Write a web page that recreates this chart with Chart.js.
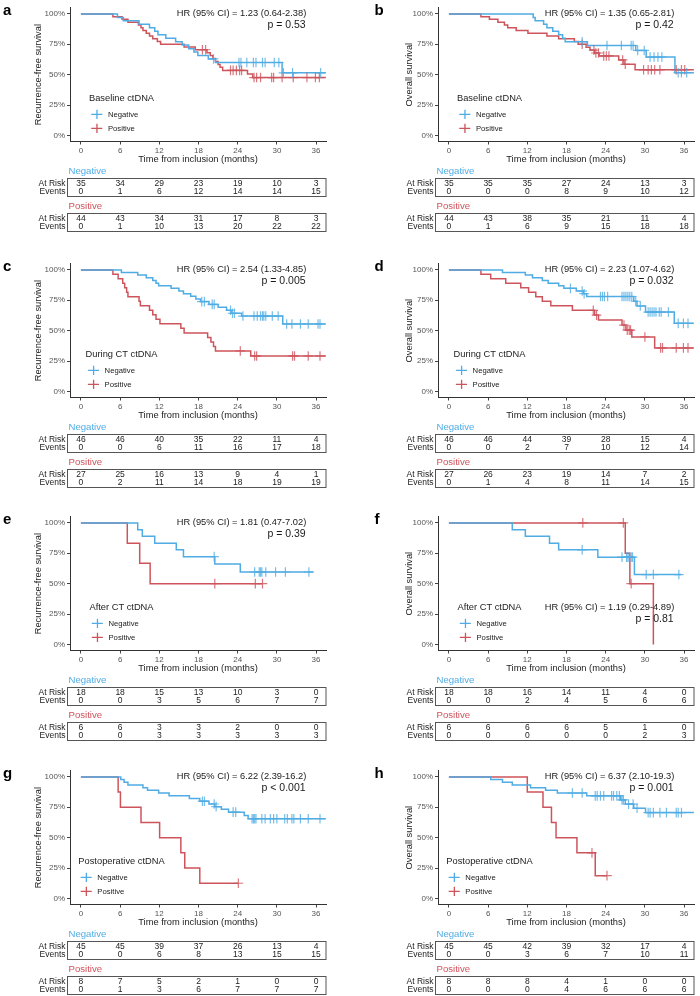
<!DOCTYPE html>
<html>
<head>
<meta charset="utf-8">
<script src="https://cdn.jsdelivr.net/npm/chart.js@4.4.1/dist/chart.umd.min.js"></script>
<style>
  body { margin: 0; background: #fff; }
  #fig { position: relative; width: 700px; height: 996px; overflow: hidden; }
  #fig canvas { position: absolute; }
</style>
</head>
<body>
<div id="fig"></div>
<script>
// ---- data ----
const panelIds = ['a', 'b', 'c', 'd', 'e', 'f', 'g', 'h'];
const cohortNames = ['Baseline ctDNA', 'Baseline ctDNA', 'During CT ctDNA', 'During CT ctDNA',
  'After CT ctDNA', 'After CT ctDNA', 'Postoperative ctDNA', 'Postoperative ctDNA'];
const yTitles = ['Recurrence-free survival', 'Overall survival', 'Recurrence-free survival', 'Overall survival',
  'Recurrence-free survival', 'Overall survival', 'Recurrence-free survival', 'Overall survival'];
const hrLabels = ['HR (95% CI) = 1.23 (0.64-2.38)', 'HR (95% CI) = 1.35 (0.65-2.81)',
  'HR (95% CI) = 2.54 (1.33-4.85)', 'HR (95% CI) = 2.23 (1.07-4.62)',
  'HR (95% CI) = 1.81 (0.47-7.02)', 'HR (95% CI) = 1.19 (0.29-4.89)',
  'HR (95% CI) = 6.22 (2.39-16.2)', 'HR (95% CI) = 6.37 (2.10-19.3)'];
const pLabels = ['p = 0.53', 'p = 0.42', 'p = 0.005', 'p = 0.032', 'p = 0.39', 'p = 0.81', 'p < 0.001', 'p = 0.001'];
const groupNames = ['Negative', 'Positive'];

const xTicks = [0, 6, 12, 18, 24, 30, 36];
const yTicks = [0, 25, 50, 75, 100];

// Kaplan-Meier steps: time (months) and survival (%) after each step
const negTimes = [
  [0, 5.6, 6.5, 8.9, 10.5, 11.3, 11.8, 13.0, 14.5, 15.5, 16.5, 17.3, 17.9, 19.5, 20.6, 30.8, 37.5],
  [0, 12.9, 13.2, 14.5, 15.0, 15.9, 16.8, 17.4, 17.8, 21.2, 28.6, 30.2, 34.6, 37.5],
  [0, 6.2, 8.7, 10.0, 11.0, 11.5, 11.9, 13.8, 15.0, 15.7, 16.8, 17.6, 18.3, 19.6, 21.0, 22.3, 23.0, 24.6, 30.9, 37.5],
  [0, 8.2, 11.7, 12.8, 14.3, 15.2, 16.8, 17.6, 19.5, 20.6, 21.1, 28.3, 28.8, 30.1, 34.5, 37.5],
  [0, 8.7, 9.4, 11.3, 14.6, 15.7, 20.5, 24.4, 35.6],
  [0, 9.7, 11.7, 15.4, 16.8, 22.8, 28.4, 35.6],
  [0, 6.1, 6.6, 7.2, 9.5, 10.2, 11.9, 13.5, 16.6, 18.2, 19.6, 20.5, 21.5, 22.6, 25.0, 25.6, 37.5],
  [0, 6.4, 8.2, 9.7, 12.5, 14.8, 16.6, 21.1, 26.3, 27.0, 28.3, 30.1, 37.5]
];
const negSurv = [
  [100, 97.1, 94.3, 91.4, 88.6, 85.7, 82.9, 80.0, 77.1, 74.3, 71.4, 68.6, 65.7, 62.9, 60.0, 51.5, 51.5],
  [100, 97.1, 94.3, 91.4, 88.6, 85.7, 82.9, 80.0, 77.1, 74.0, 69.9, 64.5, 51.6, 51.6],
  [100, 97.8, 95.7, 93.5, 91.3, 89.1, 87.0, 84.8, 82.6, 80.4, 78.3, 76.1, 73.9, 71.6, 69.2, 66.8, 64.3, 62.0, 55.5, 55.5],
  [100, 97.8, 95.7, 93.5, 91.3, 89.1, 87.0, 84.8, 82.6, 80.4, 78.1, 74.2, 70.3, 65.3, 56.0, 56.0],
  [100, 94.4, 88.9, 83.3, 77.8, 72.2, 66.2, 59.6, 59.6],
  [100, 94.4, 88.9, 83.3, 77.8, 71.8, 57.5, 57.5],
  [100, 97.8, 95.6, 93.3, 91.1, 88.9, 86.7, 84.4, 82.2, 80.0, 77.7, 75.5, 73.3, 71.0, 68.2, 65.6, 65.6],
  [100, 97.8, 95.6, 93.3, 91.1, 88.9, 86.7, 84.4, 81.0, 77.6, 74.2, 70.6, 70.6]
];
const negCensor = [
  [20.3, 24.2, 24.5, 25.4, 26.4, 26.8, 27.8, 28.2, 29.6, 30.3, 31.0, 32.4, 36.7],
  [20.4, 24.2, 26.4, 27.9, 28.2, 28.9, 29.9, 30.8, 31.4, 32.0, 32.6, 35.1, 35.6, 36.4],
  [18.5, 18.9, 20.1, 20.4, 22.9, 23.2, 23.5, 24.8, 26.5, 27.0, 27.5, 27.8, 28.0, 28.3, 29.3, 30.2, 31.5, 32.3, 33.6, 34.8, 36.3, 36.6],
  [18.6, 20.4, 20.7, 23.2, 23.5, 23.8, 24.3, 26.5, 26.8, 27.1, 27.4, 27.7, 28.0, 28.6, 29.3, 30.5, 30.8, 31.1, 31.4, 31.7, 32.2, 32.5, 33.6, 35.1, 35.9, 36.6],
  [20.4, 26.6, 27.3, 27.5, 27.7, 28.3, 29.8, 31.3, 34.9],
  [20.4, 26.5, 27.2, 27.4, 27.6, 27.9, 28.1, 30.2, 31.3, 35.2],
  [18.6, 18.9, 20.4, 20.7, 23.3, 23.7, 26.2, 26.4, 26.6, 26.8, 27.7, 28.2, 29.0, 29.5, 30.0, 31.2, 31.6, 32.3, 32.6, 33.6, 34.8, 36.6],
  [18.9, 20.4, 22.4, 22.7, 23.2, 23.7, 24.9, 25.2, 25.7, 26.1, 26.5, 26.7, 27.5, 28.2, 28.8, 30.5, 30.8, 31.3, 32.3, 33.3, 34.8, 35.1, 35.6]
];
const posTimes = [
  [0, 4.9, 6.3, 7.2, 8.8, 9.2, 9.5, 10.0, 10.5, 11.0, 11.7, 12.2, 15.8, 17.5, 19.3, 19.8, 20.2, 20.6, 21.0, 21.3, 21.7, 25.5, 26.3, 37.5],
  [0, 4.9, 6.2, 7.5, 8.5, 9.0, 10.3, 12.1, 15.0, 16.8, 19.2, 19.8, 21.0, 21.6, 22.3, 23.0, 26.0, 26.8, 28.5, 37.5],
  [0, 4.9, 5.7, 6.4, 6.7, 7.0, 7.2, 8.9, 9.1, 10.5, 11.0, 11.5, 12.1, 15.3, 15.8, 19.4, 19.9, 20.3, 20.6, 26.0, 37.5],
  [0, 4.9, 6.4, 8.7, 11.0, 12.2, 13.3, 14.3, 15.6, 18.9, 22.3, 22.9, 26.5, 27.1, 28.0, 31.5, 37.5],
  [0, 7.1, 9.0, 10.6, 27.8],
  [0, 27.0, 27.7, 31.3],
  [0, 5.7, 6.05, 9.2, 12.05, 15.3, 15.9, 18.2, 24.1],
  [0, 12.0, 14.4, 15.7, 16.4, 19.6, 22.4, 24.2]
];
const posSurv = [
  [100, 97.7, 95.5, 93.2, 90.9, 88.6, 86.4, 84.1, 81.8, 79.5, 77.3, 75.0, 72.7, 70.5, 68.1, 65.7, 63.3, 60.8, 58.4, 56.0, 53.5, 50.6, 47.6, 47.6],
  [100, 97.7, 95.5, 93.2, 90.9, 88.6, 86.4, 84.1, 81.8, 79.5, 77.3, 75.0, 72.6, 70.2, 67.8, 65.4, 62.1, 58.5, 54.0, 54.0],
  [100, 96.3, 92.6, 88.9, 85.2, 81.5, 77.8, 74.1, 70.4, 66.7, 63.0, 59.3, 55.6, 51.9, 48.1, 44.4, 40.7, 37.0, 33.3, 29.2, 29.2],
  [100, 96.3, 92.6, 88.9, 85.2, 81.5, 77.8, 74.1, 70.4, 66.7, 62.8, 58.8, 54.6, 50.4, 44.8, 35.8, 35.8],
  [100, 83.3, 66.7, 50.0, 50.0],
  [100, 75, 50, 0],
  [100, 87.5, 75, 62.5, 50, 37.5, 25, 12.5, 12.5],
  [100, 87.5, 75, 62.5, 50, 37.5, 18.75, 18.75]
];
const posCensor = [
  [18.6, 19.1, 22.9, 23.3, 23.8, 24.3, 24.6, 26.5, 26.9, 27.5, 29.2, 29.5, 30.8, 32.5, 34.6, 35.9, 36.5],
  [20.4, 22.2, 22.5, 22.9, 23.7, 24.1, 24.5, 26.6, 27.0, 29.8, 30.5, 31.0, 31.5, 32.3, 34.8, 35.6, 36.1],
  [24.4, 26.6, 26.9, 32.4, 32.7, 34.8, 36.6],
  [22.1, 22.6, 26.8, 27.3, 27.6, 27.8, 30.0, 32.4, 32.7, 34.8, 35.9, 36.6],
  [20.5, 26.7, 27.8],
  [20.5, 26.7, 27.9],
  [24.1],
  [21.9, 24.2]
];

// risk tables
const negAtRisk = [[35, 34, 29, 23, 19, 10, 3], [35, 35, 35, 27, 24, 13, 3], [46, 46, 40, 35, 22, 11, 4], [46, 46, 44, 39, 28, 15, 4],
  [18, 18, 15, 13, 10, 3, 0], [18, 18, 16, 14, 11, 4, 0], [45, 45, 39, 37, 26, 13, 4], [45, 45, 42, 39, 32, 17, 4]];
const negEvents = [[0, 1, 6, 12, 14, 14, 15], [0, 0, 0, 8, 9, 10, 12], [0, 0, 6, 11, 16, 17, 18], [0, 0, 2, 7, 10, 12, 14],
  [0, 0, 3, 5, 6, 7, 7], [0, 0, 2, 4, 5, 6, 6], [0, 0, 6, 8, 13, 15, 15], [0, 0, 3, 6, 7, 10, 11]];
const posAtRisk = [[44, 43, 34, 31, 17, 8, 3], [44, 43, 38, 35, 21, 11, 4], [27, 25, 16, 13, 9, 4, 1], [27, 26, 23, 19, 14, 7, 2],
  [6, 6, 3, 3, 2, 0, 0], [6, 6, 6, 6, 5, 1, 0], [8, 7, 5, 2, 1, 0, 0], [8, 8, 8, 4, 1, 0, 0]];
const posEvents = [[0, 1, 10, 13, 20, 22, 22], [0, 1, 6, 9, 15, 18, 18], [0, 2, 11, 14, 18, 19, 19], [0, 1, 4, 8, 11, 14, 15],
  [0, 0, 3, 3, 3, 3, 3], [0, 0, 0, 0, 0, 2, 3], [0, 1, 3, 6, 7, 7, 7], [0, 0, 0, 4, 6, 6, 6]];

// ---- styling / layout ----
const blue = 'rgb(80,172,228)';
const red = 'rgb(206,84,92)';
const blueMark = 'rgba(80,172,228,0.8)';
const redMark = 'rgba(206,84,92,0.8)';
const FONT = "'Liberation Sans', Arial, Helvetica, sans-serif";
const colLeft = [0, 368];
const rowTop = [1, 257, 510, 764];
const W = 332;

function survAt(times, surv, t) {
  let s = surv[0];
  for (let k = 0; k < times.length; k++) if (times[k] <= t) s = surv[k];
  return s;
}

function curve(times, surv, color) {
  return {
    data: times.map((t, k) => ({ x: t, y: surv[k] })),
    borderColor: color, borderWidth: 1.5, stepped: true,
    pointRadius: 0, fill: false, order: 2
  };
}

function marks(cens, times, surv, color) {
  return {
    data: cens.map(t => ({ x: t, y: survAt(times, surv, t) })),
    showLine: false, pointStyle: 'cross', pointRadius: 4.8,
    pointBorderWidth: 1.2, pointBorderColor: color, borderColor: color,
    backgroundColor: color, order: 1
  };
}

const panelDecor = {
  id: 'panelDecor',
  afterDraw(chart, args, o) {
    const { ctx } = chart;
    const xs = chart.scales.x, ys = chart.scales.y;
    const i = o.index;
    ctx.save();

    // panel letter
    ctx.fillStyle = '#000';
    ctx.font = 'bold 15px ' + FONT;
    ctx.textAlign = 'left';
    ctx.textBaseline = 'alphabetic';
    ctx.fillText(panelIds[i], o.col ? 6.5 : 3, 14);

    // HR and p value
    const lowText = i === 5;
    ctx.fillStyle = '#1a1a1a';
    ctx.textAlign = 'right';
    ctx.textBaseline = 'middle';
    ctx.font = '9.3px ' + FONT;
    ctx.fillText(hrLabels[i], xs.getPixelForValue(34.5), ys.getPixelForValue(lowText ? 30.3 : 100));
    ctx.font = '10.5px ' + FONT;
    ctx.fillText(pLabels[i], xs.getPixelForValue(34.4), ys.getPixelForValue(lowText ? 20.5 : 90.7));

    // legend inside the plot
    ctx.font = '9.3px ' + FONT;
    const tw = ctx.measureText(cohortNames[i]).width;
    const lx = 121.5 - tw / 2;
    ctx.textAlign = 'left';
    ctx.fillStyle = '#222';
    ctx.fillText(cohortNames[i], lx, 97.3);
    ctx.font = '7.7px ' + FONT;
    [[groupNames[0], blue, 113.3], [groupNames[1], red, 127.3]].forEach(([name, col, yy]) => {
      ctx.strokeStyle = col;
      ctx.lineWidth = 1.3;
      ctx.beginPath();
      ctx.moveTo(lx + 2.3, yy); ctx.lineTo(lx + 13.4, yy);
      ctx.moveTo(lx + 8, yy - 4.6); ctx.lineTo(lx + 8, yy + 4.6);
      ctx.stroke();
      ctx.fillStyle = '#222';
      ctx.fillText(name, lx + 19, yy + 0.5);
    });

    // risk tables
    const px = xTicks.map(v => xs.getPixelForValue(v));
    const tables = [
      [groupNames[0], blue, negAtRisk[i], negEvents[i], 170, 177.5],
      [groupNames[1], red, posAtRisk[i], posEvents[i], 205.7, 212.5]
    ];
    tables.forEach(([name, col, risk, ev, hy, by]) => {
      ctx.font = '9.6px ' + FONT;
      ctx.fillStyle = col;
      ctx.textAlign = 'left';
      ctx.fillText(name, 68.5, hy);
      ctx.strokeStyle = '#555';
      ctx.lineWidth = 1;
      ctx.strokeRect(67.5, by, xs.right - 67.5, 18);
      ctx.font = '8.5px ' + FONT;
      ctx.fillStyle = '#222';
      ctx.textAlign = 'right';
      ctx.fillText('At Risk', 65.5, by + 5);
      ctx.fillText('Events', 65.5, by + 13.3);
      ctx.textAlign = 'center';
      px.forEach((p, k) => {
        ctx.fillText(String(risk[k]), p, by + 5);
        ctx.fillText(String(ev[k]), p, by + 13.3);
      });
    });
    ctx.restore();
  }
};

const fig = document.getElementById('fig');

panelIds.forEach((id, i) => {
  const col = i % 2, row = Math.floor(i / 2);
  const H = row === 3 ? 232 : 234;
  const cv = document.createElement('canvas');
  cv.width = W; cv.height = H;
  cv.style.left = colLeft[col] + 'px';
  cv.style.top = rowTop[row] + 'px';
  cv.style.width = W + 'px'; cv.style.height = H + 'px';
  fig.appendChild(cv);

  new Chart(cv, {
    type: 'line',
    data: {
      datasets: [
        marks(negCensor[i], negTimes[i], negSurv[i], blueMark),
        marks(posCensor[i], posTimes[i], posSurv[i], redMark),
        curve(negTimes[i], negSurv[i], blue),
        curve(posTimes[i], posSurv[i], red)
      ]
    },
    options: {
      responsive: false,
      animation: false,
      devicePixelRatio: 1,
      layout: { padding: { left: 0, right: 4, top: 1.7, bottom: H - 140.5 - 24 } },
      plugins: {
        legend: { display: false },
        tooltip: { enabled: false },
        panelDecor: { index: i, col: col }
      },
      scales: {
        x: {
          type: 'linear', min: -1.67, max: 37.52,
          afterBuildTicks: s => { s.ticks = xTicks.map(v => ({ value: v })); },
          afterFit: s => { s.height = 24; },
          grid: { drawOnChartArea: false, drawTicks: true, tickLength: 3, color: '#444' },
          border: { display: true, color: '#333', width: 1 },
          ticks: { color: '#555', font: { size: 8, family: FONT }, padding: 1, autoSkip: false, maxRotation: 0 },
          title: { display: true, text: 'Time from inclusion (months)', color: '#222',
            font: { size: 9.3, family: FONT }, padding: { top: 0, bottom: 0 } }
        },
        y: {
          min: -5, max: 105,
          afterBuildTicks: s => { s.ticks = yTicks.map(v => ({ value: v })); },
          afterFit: s => { s.width = 70; },
          grid: { drawOnChartArea: false, drawTicks: true, tickLength: 3, color: '#444' },
          border: { display: true, color: '#333', width: 1 },
          ticks: { color: '#555', font: { size: 8, family: FONT }, padding: 2, callback: v => v + '%' },
          title: { display: true, text: yTitles[i], color: '#222',
            font: { size: 9.3, family: FONT }, padding: { top: col ? 35.7 : 32.4, bottom: 0 } }
        }
      }
    },
    plugins: [panelDecor]
  });
});
</script>
</body>
</html>
